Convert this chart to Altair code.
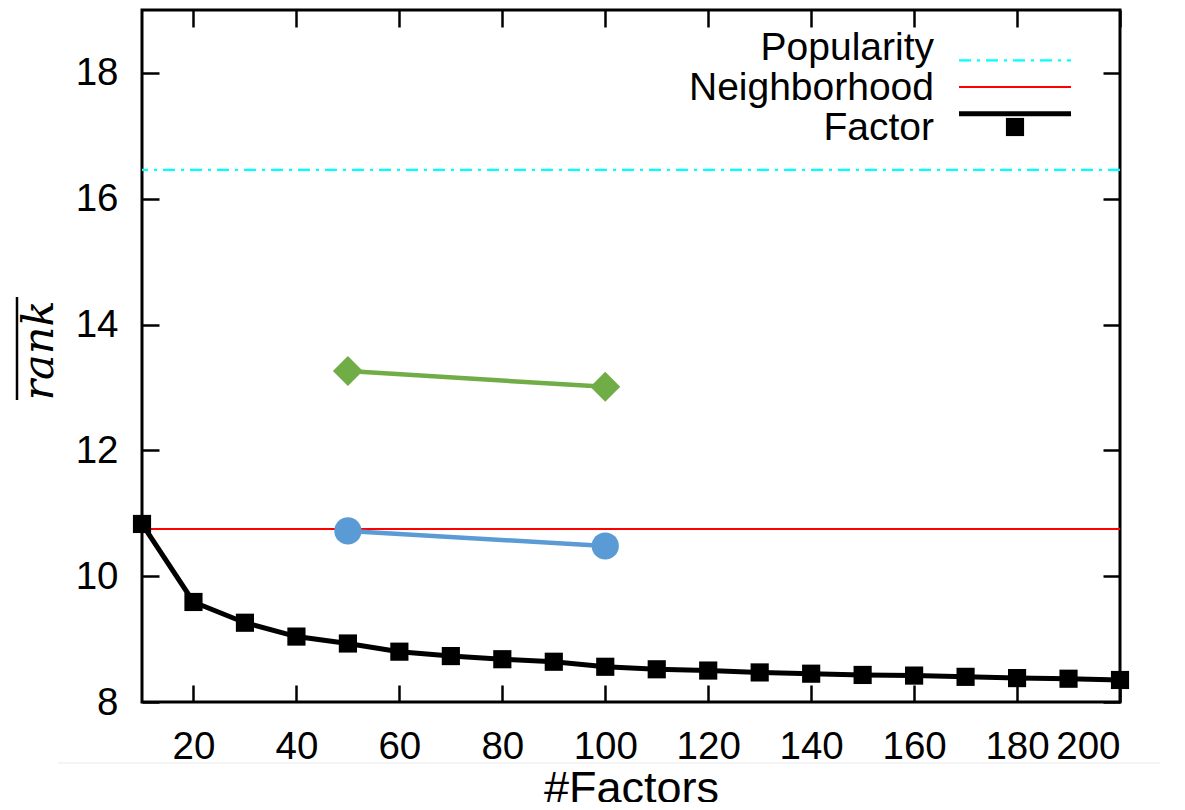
import altair as alt
import pandas as pd

# ---- data ----
factors = [10, 20, 30, 40, 50, 60, 70, 80, 90, 100,
           110, 120, 130, 140, 150, 160, 170, 180, 190, 200]
factor_rank = [10.83, 9.59, 9.26, 9.04, 8.93, 8.80, 8.73, 8.68, 8.64, 8.56,
               8.52, 8.50, 8.47, 8.45, 8.43, 8.42, 8.40, 8.38, 8.37, 8.35]
popularity_rank = [16.46]
neighborhood_rank = [10.75]
extra_factors = [50, 100]
green_rank = [13.26, 13.01]
blue_rank = [10.72, 10.48]
x_ticks = [20, 40, 60, 80, 100, 120, 140, 160, 180, 200]
y_ticks = [8, 10, 12, 14, 16, 18]
legend_labels = ["Popularity", "Neighborhood", "Factor"]
legend_colors = ["#00FFFF", "#FF0000", "black"]

W, H = 978, 692
FONT = "Liberation Sans"

df_factor = pd.DataFrame({"k": factors, "rank": factor_rank})
df_pop = pd.DataFrame({"rank": popularity_rank})
df_nb = pd.DataFrame({"rank": neighborhood_rank})
df_green = pd.DataFrame({"k": extra_factors, "rank": green_rank})
df_blue = pd.DataFrame({"k": extra_factors, "rank": blue_rank})
df_leg = pd.DataFrame({"label": legend_labels})


def xs():
    return alt.Scale(domain=[10, 200], nice=False, zero=False)


def ys():
    return alt.Scale(domain=[8, 19], nice=False, zero=False)


def tick_axis(orient, offset, values):
    return alt.Axis(orient=orient, offset=offset, values=values, labels=False,
                    domain=False, grid=False, title=None, ticks=True,
                    tickSize=17, tickWidth=2.5, tickColor="black")


main_x_axis = alt.Axis(orient="bottom", values=x_ticks, ticks=False, domain=False,
                       grid=False, labelFontSize=38.5, labelFont=FONT,
                       labelColor="black", labelPadding=26, title="#Factors",
                       titleFont=FONT, titleFontSize=45, titleFontWeight="normal",
                       titleColor="black", titleBaseline="alphabetic",
                       titleY=100)
main_y_axis = alt.Axis(orient="left", values=y_ticks, ticks=False, domain=False,
                       grid=False, labelFontSize=38.5, labelFont=FONT,
                       labelColor="black", labelPadding=24, title="rank",
                       titleFont="DejaVu Serif", titleFontStyle="italic",
                       titleFontSize=43, titleFontWeight="normal",
                       titleColor="black", titleAngle=270, titleX=-103,
                       titleY=340, titleAlign="center", titleBaseline="middle")

pop = alt.Chart(df_pop).mark_rule(color="#00FFFF", strokeWidth=2.2,
                                  strokeDash=[12, 6, 3, 6]).encode(
    y=alt.Y("rank:Q", scale=ys(), axis=tick_axis("right", -W, y_ticks)))

nb = alt.Chart(df_nb).mark_rule(color="#FF0000", strokeWidth=2).encode(
    y=alt.Y("rank:Q", scale=ys(), axis=tick_axis("left", -W, y_ticks)))

green_line = alt.Chart(df_green).mark_line(color="#70AD47", strokeWidth=4.5).encode(
    x=alt.X("k:Q", scale=xs(), axis=None),
    y=alt.Y("rank:Q", scale=ys(), axis=None))
green_pts = alt.Chart(df_green).mark_point(shape="diamond", size=900, filled=True,
                                           color="#70AD47", opacity=1).encode(
    x=alt.X("k:Q", scale=xs(), axis=None),
    y=alt.Y("rank:Q", scale=ys(), axis=None))

blue_line = alt.Chart(df_blue).mark_line(color="#5B9BD5", strokeWidth=4.5).encode(
    x=alt.X("k:Q", scale=xs(), axis=tick_axis("bottom", -H, x_ticks)),
    y=alt.Y("rank:Q", scale=ys(), axis=None))
blue_pts = alt.Chart(df_blue).mark_circle(size=740, color="#5B9BD5",
                                          opacity=1).encode(
    x=alt.X("k:Q", scale=xs(), axis=None),
    y=alt.Y("rank:Q", scale=ys(), axis=None))

factor_line = alt.Chart(df_factor).mark_line(color="black", strokeWidth=5).encode(
    x=alt.X("k:Q", scale=xs(), axis=main_x_axis),
    y=alt.Y("rank:Q", scale=ys(), axis=main_y_axis))
factor_pts = alt.Chart(df_factor).mark_square(size=330, color="black",
                                              opacity=1).encode(
    x=alt.X("k:Q", scale=xs(), axis=tick_axis("top", -H, x_ticks)),
    y=alt.Y("rank:Q", scale=ys(), axis=None))

# decorations: overline of the y-axis title, faint separator under tick labels
overline = alt.Chart(df_leg).transform_filter(alt.datum.label == "Factor").mark_rule(
    color="black", strokeWidth=2.5, clip=False).encode(
    x=alt.value(-125), y=alt.value(287), y2=alt.value(390))
separator = alt.Chart(df_leg).transform_filter(alt.datum.label == "Factor").mark_rule(
    color="#e8e8e8", strokeWidth=1, clip=False).encode(
    y=alt.value(753), x=alt.value(-84), x2=alt.value(1018))

# ---- legend (top right, labels left of samples) ----
leg_y = alt.Y("label:N", scale=alt.Scale(domain=legend_labels, range=[37, 117],
                                         padding=0), axis=None)
leg_color = alt.Color("label:N", scale=alt.Scale(domain=legend_labels,
                                                 range=legend_colors), legend=None)
leg_dash = alt.StrokeDash("label:N", scale=alt.Scale(
    domain=legend_labels, range=[[12, 6, 3, 6], [1, 0], [1, 0]]), legend=None)
leg_text = alt.Chart(df_leg).mark_text(align="right", baseline="middle",
                                       fontSize=39, font=FONT, color="black",
                                       dy=1).encode(
    x=alt.value(792), y=leg_y, text="label:N")
leg_rule_thin = alt.Chart(df_leg).transform_filter(
    alt.datum.label != "Factor").mark_rule(strokeWidth=2.2).encode(
    x=alt.value(817), x2=alt.value(929), y=leg_y, color=leg_color,
    strokeDash=leg_dash)
leg_rule_thick = alt.Chart(df_leg).transform_filter(
    alt.datum.label == "Factor").mark_rule(strokeWidth=5).encode(
    x=alt.value(817), x2=alt.value(929), y=leg_y, color=leg_color)
leg_sq = alt.Chart(df_leg).transform_filter(alt.datum.label == "Factor").mark_square(
    size=330, color="black", opacity=1).encode(x=alt.value(873), y=leg_y)

chart = alt.layer(
    pop, nb, green_line, green_pts, blue_line, blue_pts,
    factor_line, factor_pts, overline, separator,
    leg_rule_thin, leg_rule_thick, leg_sq, leg_text
).resolve_scale(x="independent", y="independent").properties(
    width=W, height=H,
    autosize=alt.AutoSizeParams(type="none"),
    padding={"left": 134, "top": 2, "right": 57, "bottom": 100},
    background="white",
).configure_view(stroke="black", strokeWidth=3)

chart.save("out.html", embed_options={"renderer": "svg", "actions": False})
